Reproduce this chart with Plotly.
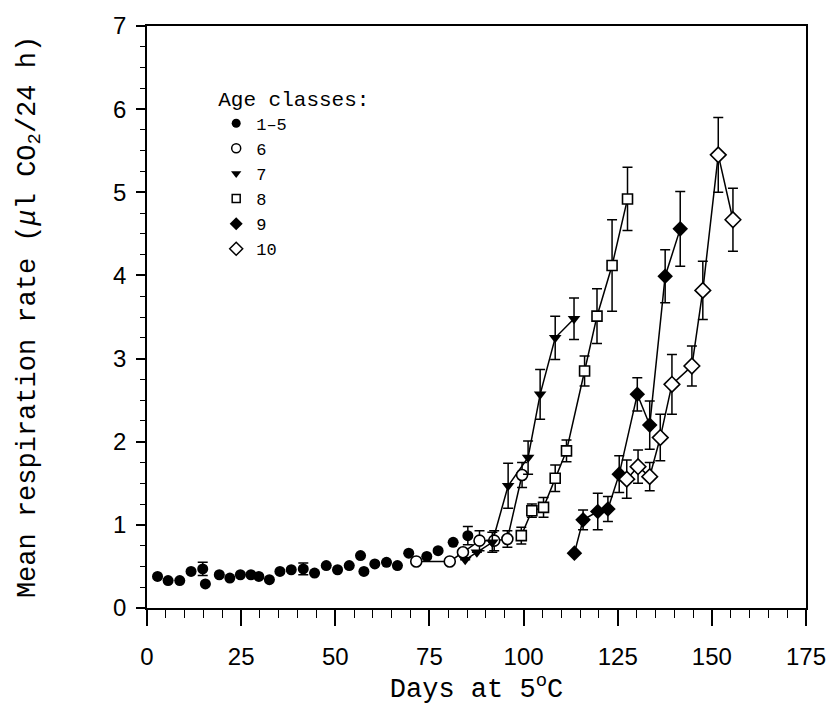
import plotly.graph_objects as go

# ---- data ----
d15 = [2.8, 5.6, 8.7, 11.7, 14.8, 15.5, 19.2, 22.0, 24.8, 27.6, 29.7, 32.5, 35.3, 38.3,
       41.5, 44.5, 47.6, 50.6, 53.7, 56.7, 57.6, 60.5, 63.6, 66.5, 69.5, 74.3, 77.3, 81.3, 85.2]
v15 = [0.38, 0.33, 0.33, 0.44, 0.47, 0.29, 0.40, 0.36, 0.40, 0.40, 0.38, 0.34, 0.44, 0.46,
       0.47, 0.42, 0.51, 0.46, 0.51, 0.63, 0.44, 0.53, 0.55, 0.51, 0.66, 0.62, 0.69, 0.79, 0.87]
e15 = [0, 0, 0, 0, 0.08, 0, 0, 0, 0, 0, 0, 0, 0, 0,
       0.07, 0, 0, 0, 0, 0, 0, 0, 0, 0, 0, 0, 0, 0, 0.11]

d6 = [71.5, 80.4, 83.9, 88.3, 92.2, 95.7, 99.6]
v6 = [0.56, 0.56, 0.67, 0.81, 0.81, 0.83, 1.60]
e6 = [0, 0, 0, 0.12, 0.12, 0.10, 0.15]

d7 = [84.5, 87.6, 91.7, 95.9, 101.2, 104.4, 108.4, 113.4]
v7 = [0.58, 0.67, 0.79, 1.47, 1.81, 2.57, 3.25, 3.48]
e7 = [0, 0, 0.12, 0.27, 0.20, 0.30, 0.26, 0.25]

d8 = [99.4, 102.2, 105.3, 108.4, 111.4, 116.2, 119.5, 123.5, 127.6]
v8 = [0.87, 1.17, 1.21, 1.56, 1.89, 2.85, 3.51, 4.12, 4.92]
e8 = [0.10, 0.08, 0.12, 0.16, 0.13, 0.18, 0.33, 0.55, 0.38]

d9 = [113.5, 115.8, 119.7, 122.4, 125.4, 130.2, 133.5, 137.6, 141.6]
v9 = [0.66, 1.06, 1.16, 1.19, 1.61, 2.57, 2.20, 3.99, 4.56]
e9 = [0, 0.12, 0.22, 0.15, 0.22, 0.20, 0.29, 0.32, 0.45]

d10 = [127.4, 130.4, 133.5, 136.3, 139.4, 144.7, 147.6, 151.7, 155.6]
v10 = [1.55, 1.70, 1.58, 2.05, 2.69, 2.91, 3.82, 5.45, 4.67]
e10 = [0.23, 0.20, 0.17, 0.28, 0.36, 0.24, 0.35, 0.45, 0.38]

x_ticks = [0, 25, 50, 75, 100, 125, 150, 175]
y_ticks = [0, 1, 2, 3, 4, 5, 6, 7]

series = [
    ("1\u20135", d15, v15, e15, "circle", "black", 11, False),
    ("6", d6, v6, e6, "circle", "white", 11, True),
    ("7", d7, v7, e7, "triangle-down", "black", 11, True),
    ("8", d8, v8, e8, "square", "white", 10, True),
    ("9", d9, v9, e9, "diamond", "black", 12, True),
    ("10", d10, v10, e10, "diamond", "white", 12, True),
]

fig = go.Figure()
# connecting lines
for name, d, v, e, sym, fill, size, line in series:
    if line:
        fig.add_trace(go.Scatter(x=d, y=v, mode="lines", showlegend=False,
                                 line=dict(color="black", width=1.5), hoverinfo="skip"))
# markers with error bars
for name, d, v, e, sym, fill, size, line in series:
    fig.add_trace(go.Scatter(
        x=d, y=v, mode="markers", name=name, showlegend=False,
        error_y=dict(type="data", array=e, visible=True, color="black", thickness=1.5, width=5),
        marker=dict(symbol=sym, size=size, color=fill,
                    line=dict(color="black", width=1.6 if fill == "white" else 0)),
    ))
# legend entries (smaller symbols, as in the reference key)
for name, d, v, e, sym, fill, size, line in series:
    fig.add_trace(go.Scatter(
        x=[None], y=[None], mode="markers", name=name, showlegend=True,
        marker=dict(symbol=sym, size=size - 2, color=fill,
                    line=dict(color="black", width=1.5 if fill == "white" else 0)),
    ))

fig.update_layout(
    width=838, height=706,
    margin=dict(l=147, r=24, t=22, b=89),
    paper_bgcolor="white", plot_bgcolor="white",
    showlegend=True,
    legend=dict(
        title=dict(text="Age classes:", font=dict(family="Liberation Mono", size=21, color="black")),
        x=0.105, y=0.91, xanchor="left", yanchor="top",
        font=dict(family="Liberation Mono", size=17, color="black"),
        bgcolor="rgba(0,0,0,0)", itemwidth=30, tracegroupgap=0,
    ),
    xaxis=dict(
        range=[0, 175], tickvals=x_ticks, ticktext=[str(t) for t in x_ticks],
        showgrid=False, zeroline=False, showline=True, linecolor="black", linewidth=1.5,
        mirror=True, ticks="outside", ticklen=16, tickwidth=1.5, tickcolor="black",
        ticklabelstandoff=10,
        minor=dict(dtick=5, ticks="outside", ticklen=8, tickwidth=1, tickcolor="black", showgrid=False),
        tickfont=dict(family="Liberation Sans", size=24, color="black"),
        title=dict(text="Days at 5<sup>o</sup>C", standoff=6,
                   font=dict(family="Liberation Mono", size=27, color="black")),
    ),
    yaxis=dict(
        range=[0, 7], tickvals=y_ticks, ticktext=[str(t) for t in y_ticks],
        showgrid=False, zeroline=False, showline=True, linecolor="black", linewidth=1.5,
        mirror=True, ticks="outside", ticklen=9, tickwidth=1.5, tickcolor="black",
        ticklabelstandoff=5,
        minor=dict(dtick=0.25, ticks="outside", ticklen=5, tickwidth=1, tickcolor="black", showgrid=False),
        tickfont=dict(family="Liberation Sans", size=24, color="black"),
        title=dict(text="Mean respiration rate (<i>\u03bc</i>l CO<sub>2</sub>/24 h)", standoff=70,
                   font=dict(family="Liberation Mono", size=27, color="black")),
    ),
)

fig.write_html("out.html")
